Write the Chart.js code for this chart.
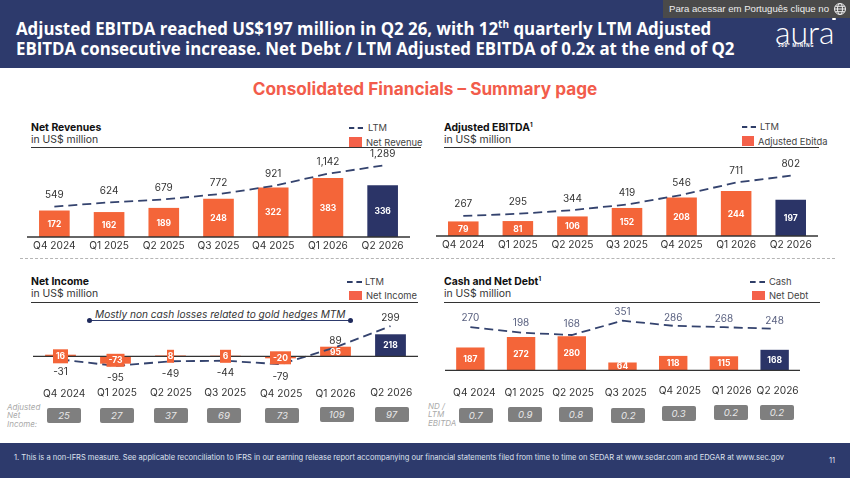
<!DOCTYPE html>
<html>
<head>
<meta charset="utf-8">
<script src="https://cdn.jsdelivr.net/npm/chart.js@4"></script>
<style>
    html, body { margin: 0; padding: 0; background: #fff; }
    #page { position: relative; width: 850px; height: 478px; overflow: hidden; font-family: Inter, "Open Sans", sans-serif; color: #333; }
    .abs { position: absolute; white-space: nowrap; }
    canvas { position: absolute; }
    #top-band { left: 0; top: 0; width: 850px; height: 68px; background: #2d3a6c; }
    #headline { left: 16px; top: 19px; color: #fff; font: 700 16.85px/20px "Open Sans", sans-serif; }
    #headline sup { font-size: 10px; line-height: 0; }
    #notice { right: 0; top: 0; width: 187px; height: 18px; background: #4a4a4a; color: #eee; font: 9.6px/18px "Liberation Sans", sans-serif; }
    #notice span { position: absolute; left: 6px; }
    #notice svg { position: absolute; right: 3px; top: 2px; }
    #logo { left: 775px; top: 15px; color: #fff; font: 300 32px/34px Lato, sans-serif; }
    #logo-sub { left: 778px; top: 42px; color: #fff; font: 700 4.5px/6px "Open Sans", sans-serif; letter-spacing: .7px; }
    #logo-mark { left: 832px; top: 18px; width: 4px; height: 2px; background: #fff; border-radius: 1px; }
    #page-title { left: 0; width: 850px; top: 78px; text-align: center; color: #f25c4b; font: 700 17.2px/22px Inter, sans-serif; }
    #divider { left: 20px; top: 258px; width: 815px; border-top: 1px dashed #b5b5b5; }
    .title { font-size: 10.4px; font-weight: 700; color: #111; line-height: 12px; }
    .title sup { font-size: 6px; line-height: 0; }
    .sub { font-size: 10.4px; color: #333; line-height: 12px; }
    .rule { height: 1px; background: #333; }
    .leg { font-size: 9.4px; color: #444; line-height: 12px; }
    .dash { height: 0; border-top: 2px dashed #2f3e68; }
    .swatch { background: #f4614a; }
    .pill { width: 34px; height: 15px; border-radius: 2px; background: #7f7f7f; color: #e8e8e8; text-align: center; font: italic 9.6px/15px Inter, sans-serif; }
    .side { color: #aaa; font: italic 8px/8.4px Inter, sans-serif; }
    #note { left: 14px; top: 452px; color: #dfe2ee; font: 7.52px/12px Inter, sans-serif; }
    #bottom-band { left: 0; top: 443px; width: 850px; height: 35px; background: #2d3a6c; }
    #page-num { left: 829px; top: 455px; color: #dfe2ee; font: 7.6px/12px Inter, sans-serif; }
    #mtm-text { left: 95px; top: 308px; font: italic 10.15px/12px Inter, sans-serif; color: #333; }
    #mtm-line { left: 89px; top: 319.5px; width: 261px; height: 1px; background: #2d3a6c; }
    .dot { width: 5px; height: 5px; border-radius: 50%; background: #1f2a5c; }
</style>
</head>
<body>
<div id="page">
    <div class="abs" id="top-band"></div>
    <div class="abs" id="headline">Adjusted EBITDA reached US$197 million in Q2 26, with 12<sup>th</sup> quarterly LTM Adjusted<br>EBITDA consecutive increase. Net Debt / LTM Adjusted EBITDA of 0.2x at the end of Q2</div>
    <div class="abs" id="notice"><span>Para acessar em Português clique no</span>
        <svg width="14" height="14" viewBox="0 0 14 14" fill="none" stroke="#eee" stroke-width="1"><circle cx="7" cy="7" r="5.5"/><ellipse cx="7" cy="7" rx="2.5" ry="5.5"/><path d="M1.5 7h11M2.3 4.3h9.4M2.3 9.7h9.4"/></svg>
    </div>
    <div class="abs" id="logo">aura</div>
    <div class="abs" id="logo-mark"></div>
    <div class="abs" id="logo-sub">360° MINING</div>
    <div class="abs" id="page-title">Consolidated Financials – Summary page</div>
    <div class="abs" id="divider"></div>

    <div class="abs title" style="left:31px;top:122px">Net Revenues</div>
    <div class="abs sub" style="left:31px;top:134px">in US$ million</div>
    <div class="abs rule" style="left:31px;top:147px;width:390px"></div>
    <div class="abs dash" style="left:349px;top:127px;width:14px"></div>
    <div class="abs leg" style="left:368px;top:122px">LTM</div>
    <div class="abs swatch" style="left:349px;top:137px;width:13px;height:10px"></div>
    <div class="abs leg" style="left:366px;top:137px">Net Revenue</div>

    <div class="abs title" style="left:444px;top:122px">Adjusted EBITDA<sup>1</sup></div>
    <div class="abs sub" style="left:444px;top:134px">in US$ million</div>
    <div class="abs rule" style="left:444px;top:147px;width:375px"></div>
    <div class="abs dash" style="left:742px;top:126px;width:14px"></div>
    <div class="abs leg" style="left:760px;top:121px">LTM</div>
    <div class="abs swatch" style="left:742px;top:136px;width:12px;height:10px"></div>
    <div class="abs leg" style="left:758px;top:136px">Adjusted Ebitda</div>

    <div class="abs title" style="left:31px;top:276px">Net Income</div>
    <div class="abs sub" style="left:31px;top:288px">in US$ million</div>
    <div class="abs rule" style="left:31px;top:302px;width:387px"></div>
    <div class="abs dash" style="left:347px;top:281px;width:15px"></div>
    <div class="abs leg" style="left:365px;top:276px">LTM</div>
    <div class="abs swatch" style="left:349px;top:291px;width:13px;height:9px"></div>
    <div class="abs leg" style="left:366px;top:290px">Net Income</div>

    <div class="abs title" style="left:444px;top:276px">Cash and Net Debt<sup>1</sup></div>
    <div class="abs sub" style="left:444px;top:288px">in US$ million</div>
    <div class="abs rule" style="left:444px;top:302px;width:376px"></div>
    <div class="abs dash" style="left:750px;top:281px;width:15px"></div>
    <div class="abs leg" style="left:769px;top:276px">Cash</div>
    <div class="abs swatch" style="left:752px;top:291px;width:13px;height:9px"></div>
    <div class="abs leg" style="left:769px;top:290px">Net Debt</div>

    <div class="abs" id="mtm-text">Mostly non cash losses related to gold hedges MTM</div>
    <div class="abs" id="mtm-line"></div>
    <div class="abs dot" style="left:87px;top:317.5px"></div>
    <div class="abs dot" style="left:347.5px;top:317.5px"></div>

    <div class="abs side" style="left:7px;top:403px">Adjusted<br>Net<br>Income:</div>
    <div class="abs side" style="left:428px;top:402px">ND /<br>LTM<br>EBITDA</div>

    <div class="abs" id="bottom-band"></div>
    <div class="abs" id="note">1. This is a non-IFRS measure. See applicable reconciliation to IFRS in our earning release report accompanying our financial statements filed from time to time on SEDAR at www.sedar.com and EDGAR at www.sec.gov</div>
    <div class="abs" id="page-num">11</div>
</div>

<script>
const quarters = ['Q4 2024', 'Q1 2025', 'Q2 2025', 'Q3 2025', 'Q4 2025', 'Q1 2026', 'Q2 2026'];

const netRevenue = [172, 162, 189, 248, 322, 383, 336];
const netRevenueLtm = [549, 624, 679, 772, 921, 1142, 1289];

const ebitda = [79, 81, 106, 152, 208, 244, 197];
const ebitdaLtm = [267, 295, 344, 419, 546, 711, 802];

const netIncome = [16, -73, 8, 6, -20, 95, 218];
const netIncomeLtm = [-31, -95, -49, -44, -79, 89, 299];
const adjustedNetIncome = [25, 27, 37, 69, 73, 109, 97];

const netDebt = [187, 272, 280, 64, 118, 115, 168];
const cash = [270, 198, 168, 351, 286, 268, 248];
const netDebtEbitda = ['0.7', '0.9', '0.8', '0.2', '0.3', '0.2', '0.2'];

const ORANGE = '#f46539';
const NAVY = '#2b3467';
const LINE = '#34436e';
const FONT = 'Inter, "Open Sans", sans-serif';

// draws zero line, value labels and (when asked) shifted tick labels
const panelLabels = {
    id: 'panelLabels',
    afterDatasetsDraw(chart, args, opts) {
        const ctx = chart.ctx;
        const x = chart.scales.x;
        const yBar = chart.scales.y;
        const yLine = chart.scales.yLine;
        ctx.save();
        ctx.strokeStyle = '#333';
        ctx.lineWidth = 1.3;
        ctx.beginPath();
        ctx.moveTo(chart.chartArea.left, yBar.getPixelForValue(0));
        ctx.lineTo(chart.chartArea.right, yBar.getPixelForValue(0));
        ctx.stroke();

        ctx.textAlign = 'center';
        ctx.textBaseline = 'middle';
        chart.data.labels.forEach((label, i) => {
            const px = x.getPixelForTick(i);
            const bar = chart.data.datasets[1].data[i];
            const ln = chart.data.datasets[0].data[i];
            const box = opts.boxes && opts.boxes[i];
            let by = yBar.getPixelForValue(bar / 2);
            if (box) {
                by = yBar.getPixelForValue(0) + box[2];
                ctx.fillStyle = ORANGE;
                ctx.fillRect(px - box[0] / 2, by - box[1] / 2, box[0], box[1]);
            }
            ctx.font = '700 8.5px ' + FONT;
            ctx.fillStyle = '#fff';
            ctx.fillText(bar, px, by + 0.5);

            ctx.font = '10px ' + FONT;
            ctx.fillStyle = opts.lineColor || '#333';
            const dy = opts.lineDy ? opts.lineDy[i] : -11.5;
            ctx.fillText(ln.toLocaleString('en-US'), px, yLine.getPixelForValue(ln) + dy);

            if (opts.tickDx) {
                ctx.font = '10.2px ' + FONT;
                ctx.fillStyle = '#333';
                ctx.fillText(label, px + opts.tickDx[i], chart.chartArea.bottom + opts.tickDy[i]);
            }
        });
        ctx.restore();
    }
};

function drawPanel(p) {
    const canvas = document.createElement('canvas');
    const plotH = p.bottom - p.top;
    canvas.style.left = p.left + 'px';
    canvas.style.top = p.top + 'px';
    canvas.width = p.right - p.left;
    canvas.height = plotH + p.axisH;
    document.getElementById('page').appendChild(canvas);

    new Chart(canvas, {
        type: 'bar',
        data: {
            labels: quarters,
            datasets: [{
                type: 'line',
                data: p.line,
                yAxisID: 'yLine',
                borderColor: LINE,
                borderWidth: 1.8,
                borderDash: [9, 5],
                pointRadius: 0,
                tension: 0,
                fill: false,
                order: 0
            }, {
                data: p.bars,
                yAxisID: 'y',
                backgroundColor: p.bars.map((v, i) => i === p.bars.length - 1 ? NAVY : ORANGE),
                barPercentage: p.barPct,
                categoryPercentage: 1,
                order: 1
            }]
        },
        options: {
            responsive: false,
            animation: false,
            maintainAspectRatio: false,
            layout: { padding: 0 },
            plugins: { legend: { display: false }, tooltip: { enabled: false }, panelLabels: p.labels },
            scales: {
                x: {
                    grid: { display: false, drawTicks: false },
                    border: { display: false },
                    afterFit(scale) { scale.height = p.axisH; },
                    ticks: {
                        display: p.axisTicks,
                        color: '#333',
                        font: { family: FONT, size: 10.2 },
                        padding: 3,
                        maxRotation: 0,
                        autoSkip: false
                    }
                },
                y: {
                    display: false,
                    min: -(p.bottom - p.zero) / p.barPx,
                    max: (p.zero - p.top) / p.barPx
                },
                yLine: {
                    display: false,
                    min: -(p.bottom - p.lineZero) / p.linePx,
                    max: (p.lineZero - p.top) / p.linePx
                }
            }
        },
        plugins: [panelLabels]
    });
}

function addPills(values, xs, ys) {
    values.forEach((v, i) => {
        const d = document.createElement('div');
        d.className = 'abs pill';
        d.textContent = v;
        d.style.left = (xs[i] - 17) + 'px';
        d.style.top = (ys[i] - 7.5) + 'px';
        document.getElementById('page').appendChild(d);
    });
}

drawPanel({
    left: 27, right: 410, top: 148, zero: 237, bottom: 237, axisH: 18,
    barPx: 0.154, linePx: 0.0554, lineZero: 237, barPct: 0.56, axisTicks: true,
    bars: netRevenue, line: netRevenueLtm, labels: {}
});

drawPanel({
    left: 436, right: 818.5, top: 148, zero: 236.7, bottom: 236.7, axisH: 18,
    barPx: 0.186, linePx: 0.0758, lineZero: 236.7, barPct: 0.56, axisTicks: true,
    bars: ebitda, line: ebitdaLtm, labels: {}
});

drawPanel({
    left: 33, right: 418, top: 304, zero: 356.3, bottom: 385, axisH: 16,
    barPx: 0.101, linePx: 0.101, lineZero: 356.3, barPct: 0.56, axisTicks: false,
    bars: netIncome, line: netIncomeLtm,
    labels: {
        lineDy: [12.3, 12.4, 12.4, 12.6, 12.7, -6.3, -8],
        boxes: [[15, 14, 0], [18, 13, 4], [7, 13, 0], [11, 13, 0], [21, 13, 1.5], null, null],
        tickDx: [3.7, 1.4, 0.4, -0.3, 0.7, 0, 0.7],
        tickDy: [8.7, 8.3, 8.3, 8.3, 9, 9, 8.3]
    }
});

drawPanel({
    left: 444.6, right: 800.5, top: 304, zero: 370.3, bottom: 385, axisH: 16,
    barPx: 0.122, linePx: 0.078, lineZero: 348.1, barPct: 0.56, axisTicks: false,
    bars: netDebt, line: cash,
    labels: {
        lineColor: '#5a6180',
        lineDy: [-9, -10, -11, -8.3, -8, -8.3, -7.7],
        tickDx: [4, 3.3, 1.3, 3.3, 6.7, 7.7, 3],
        tickDy: [8.3, 7.7, 7.7, 8, 6.3, 6.3, 5.7]
    }
});

addPills(adjustedNetIncome, [64, 116.7, 170.7, 224, 282.3, 336.7, 391.7], [415, 415, 415, 415, 415, 414.7, 414.3]);
addPills(netDebtEbitda, [475.7, 525.3, 576, 628.3, 678.7, 731, 777], [415, 414, 414, 415, 413, 412.7, 412.7]);
</script>
</body>
</html>
